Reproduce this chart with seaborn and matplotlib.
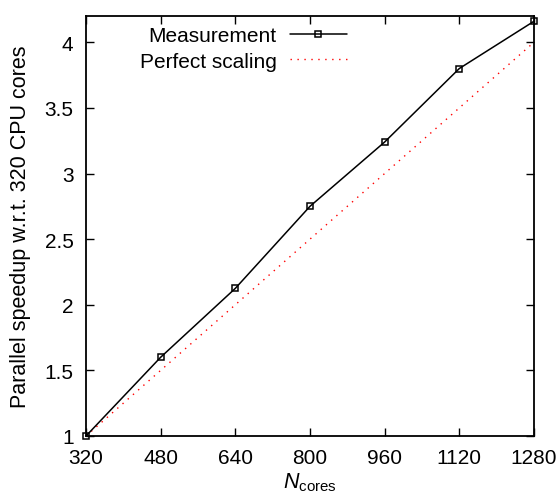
import numpy as np
import pandas as pd
import matplotlib
matplotlib.use("Agg")
import matplotlib.pyplot as plt
import seaborn as sns

# data
cores = [320, 480, 640, 800, 960, 1120, 1280]
speedup = [1.0, 1.60, 2.125, 2.75, 3.24, 3.80, 4.16]
perfect_cores = [320, 1280]
perfect_speedup = [1.0, 4.0]
xticks = [320, 480, 640, 800, 960, 1120, 1280]
yticks = [1, 1.5, 2, 2.5, 3, 3.5, 4]
ytick_labels = ['1', '1.5', '2', '2.5', '3', '3.5', '4']

sns.set_style("ticks")
plt.rcParams['font.family'] = ['Liberation Sans', 'DejaVu Sans']
plt.rcParams['mathtext.fontset'] = 'custom'
plt.rcParams['mathtext.rm'] = 'Liberation Sans'
plt.rcParams['mathtext.it'] = 'Liberation Sans:italic'
for k in ['text.color', 'axes.labelcolor', 'xtick.color', 'ytick.color', 'axes.edgecolor']:
    plt.rcParams[k] = 'black'

df = pd.DataFrame({'cores': cores, 'speedup': speedup})
dfp = pd.DataFrame({'cores': perfect_cores, 'speedup': perfect_speedup})

fig = plt.figure(figsize=(5.58, 5.02), dpi=100)
ax = fig.add_axes([86/558, 1-437/502, (534-86)/558, (437-17)/502])

sns.lineplot(data=df, x='cores', y='speedup', ax=ax, color='black', lw=1.1,
             marker='s', markersize=4.6, markerfacecolor='none',
             markeredgecolor='black', markeredgewidth=1.1, label='Measurement',
             clip_on=False, zorder=3)
sns.lineplot(data=dfp, x='cores', y='speedup', ax=ax, color='red', lw=1.0,
             linestyle=(0, (1, 4)), label='Perfect scaling')

ax.set_xlim(320, 1280)
ax.set_ylim(1, 4.2)
ax.set_xticks(xticks)
ax.set_yticks(yticks)
ax.set_yticklabels(ytick_labels)
ax.tick_params(direction='in', length=6, width=1, labelsize=15, pad=9,
               top=True, right=True, labeltop=False, labelright=False)
for s in ax.spines.values():
    s.set_linewidth(1.3)
    s.set_visible(True)

ax.set_xlabel(r'$N_{\mathrm{cores}}$', fontsize=15.5, labelpad=2)
ax.set_ylabel('Parallel speedup w.r.t. 320 CPU cores', fontsize=15.5, labelpad=10)

leg = ax.legend(loc='upper right', bbox_to_anchor=(357/558, 1-17/502),
                bbox_transform=fig.transFigure, frameon=False, borderpad=0,
                fontsize=15, markerfirst=False, handlelength=2.74,
                labelspacing=0.3, handletextpad=0.62)
for t in leg.get_texts():
    t.set_ha('right')
leg._legend_box.align = 'right'

fig.savefig('out.png', dpi=100)
